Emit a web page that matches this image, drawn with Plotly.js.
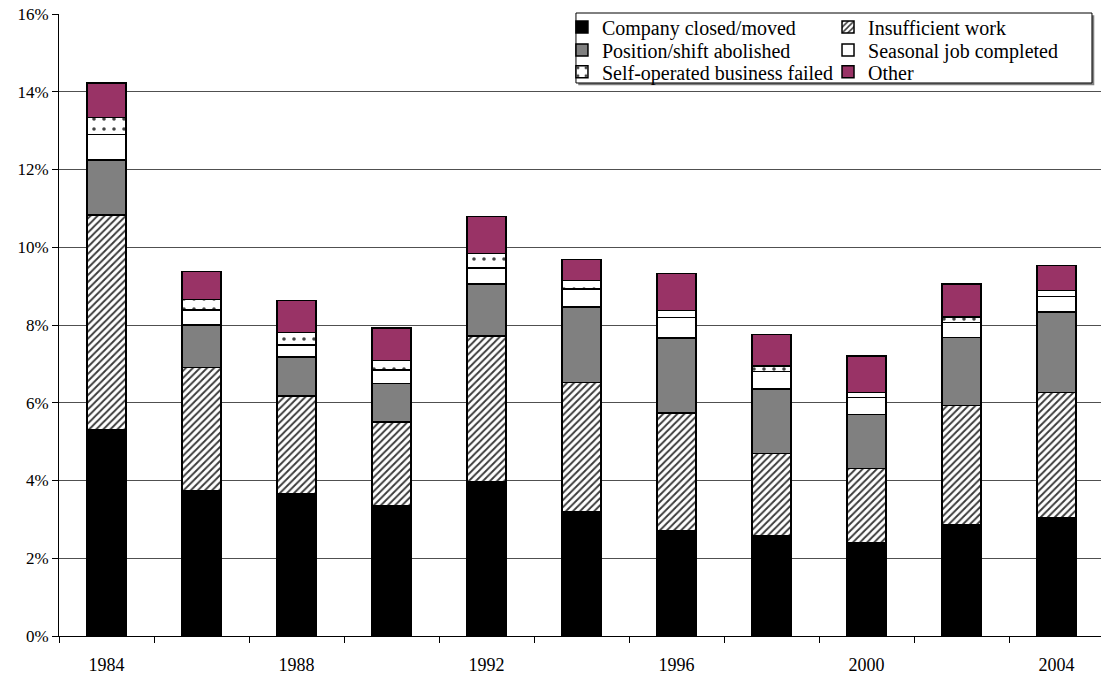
<!DOCTYPE html>
<html><head><meta charset="utf-8">
<script src="https://cdn.plot.ly/plotly-3.0.1.min.js"></script>
<style>html,body{margin:0;padding:0;overflow:hidden;background:#fff}#chart{width:1106px;height:677px}</style>
</head><body><div id="chart"></div>
<script>
// Data (percent of workers displaced, by reason)
const years = [1984, 1986, 1988, 1990, 1992, 1994, 1996, 1998, 2000, 2002, 2004];
const tickYears = [1984, 1988, 1992, 1996, 2000, 2004];
const boundaryYears = [1983, 1985, 1987, 1989, 1991, 1993, 1995, 1997, 1999, 2001, 2003, 2005];
const companyClosed = [5.30, 3.73, 3.66, 3.34, 3.97, 3.20, 2.70, 2.58, 2.40, 2.86, 3.04];
const insufficientWork = [5.53, 3.18, 2.51, 2.16, 3.75, 3.32, 3.04, 2.11, 1.91, 3.07, 3.22];
const positionAbolished = [1.41, 1.09, 1.01, 1.00, 1.33, 1.94, 1.93, 1.66, 1.39, 1.75, 2.08];
const seasonalJob = [0.66, 0.39, 0.31, 0.34, 0.42, 0.46, 0.52, 0.45, 0.43, 0.38, 0.39];
const selfBusinessFailed = [0.44, 0.27, 0.32, 0.25, 0.37, 0.23, 0.18, 0.15, 0.14, 0.15, 0.16];
const otherReason = [0.88, 0.71, 0.82, 0.83, 0.95, 0.54, 0.96, 0.81, 0.93, 0.85, 0.64];
const seriesNames = ['Company closed/moved', 'Insufficient work', 'Position/shift abolished',
  'Seasonal job completed', 'Self-operated business failed', 'Other'];

const FONT = '"Liberation Serif", "Times New Roman", serif';
const outline = {color: '#000', width: 1.5};
const barWidth = 0.82;

function bar(name, vals, marker, legendId) {
  return {
    type: 'bar', x: years, y: vals, name: name, width: barWidth,
    marker: Object.assign({line: outline}, marker),
    legend: legendId, hoverinfo: 'x+y+name'
  };
}

const traces = [
  bar(seriesNames[0], companyClosed, {color: '#000000'}, 'legend'),
  bar(seriesNames[1], insufficientWork, {color: '#ffffff',
      pattern: {shape: '/', fgcolor: '#3a3a3a', bgcolor: '#ffffff', size: 5, solidity: 0.38}}, 'legend2'),
  bar(seriesNames[2], positionAbolished, {color: '#808080'}, 'legend3'),
  bar(seriesNames[3], seasonalJob, {color: '#ffffff'}, 'legend4'),
  bar(seriesNames[4], selfBusinessFailed, {color: '#ffffff',
      pattern: {shape: '.', fgcolor: '#444444', bgcolor: '#ffffff', size: 10, solidity: 0.1}}, 'legend5'),
  bar(seriesNames[5], otherReason, {color: '#993366'}, 'legend6')
];

// legend box geometry (paper coordinates)
const bx0 = 0.4947, bx1 = 0.9885, by0 = 0.8891, by1 = 1.0016;
const sdx = 0.0022, sdy = 0.0035;
const col1 = 0.4813, col2 = 0.7359;
const row1 = 0.979, row2 = 0.942, row3 = 0.907;

function leg(x, y) {
  return {
    font: {family: FONT, size: 20, color: '#000'},
    bgcolor: 'rgba(0,0,0,0)', borderwidth: 0,
    orientation: 'v', traceorder: 'normal',
    x: x, y: y, xanchor: 'left', yanchor: 'middle',
    itemclick: false, itemdoubleclick: false
  };
}

const layout = {
  width: 1106, height: 677,
  margin: {l: 59, r: 2, t: 14, b: 41},
  paper_bgcolor: '#ffffff', plot_bgcolor: '#ffffff',
  barmode: 'stack',
  font: {family: FONT, size: 17, color: '#000'},
  showlegend: true,
  legend: leg(col1, row1),
  legend2: leg(col2, row1),
  legend3: leg(col1, row2),
  legend4: leg(col2, row2),
  legend5: leg(col1, row3),
  legend6: leg(col2, row3),
  xaxis: {
    type: 'linear', range: [1983, 2005],
    tickmode: 'array', tickvals: tickYears, ticktext: tickYears.map(String),
    ticks: 'outside', ticklen: 12, tickcolor: 'rgba(0,0,0,0)',
    tickfont: {family: FONT, size: 18, color: '#000'},
    showline: true, linecolor: '#000', linewidth: 1,
    showgrid: false, zeroline: false,
    minor: {tickmode: 'array', tickvals: boundaryYears, ticks: 'outside', ticklen: 6, tickcolor: '#000', tickwidth: 1, showgrid: false}
  },
  yaxis: {
    range: [0, 16], tickmode: 'linear', tick0: 0, dtick: 2, ticksuffix: '%',
    ticks: 'outside', ticklen: 6, tickcolor: '#000', tickwidth: 1,
    tickfont: {family: FONT, size: 17, color: '#000'},
    showline: true, linecolor: '#000', linewidth: 1,
    showgrid: true, gridcolor: '#505050', gridwidth: 1, zeroline: false
  },
  shapes: [
    {type: 'rect', xref: 'paper', yref: 'paper', layer: 'above',
     x0: bx0 + sdx, x1: bx1 + sdx, y0: by0 - sdy, y1: by1 - sdy,
     fillcolor: '#808080', line: {width: 0}},
    {type: 'rect', xref: 'paper', yref: 'paper', layer: 'above',
     x0: bx0, x1: bx1, y0: by0, y1: by1,
     fillcolor: '#ffffff', line: {color: '#000', width: 1}}
  ]
};

Plotly.newPlot('chart', traces, layout, {displayModeBar: false, staticPlot: true});
</script>
</body></html>
